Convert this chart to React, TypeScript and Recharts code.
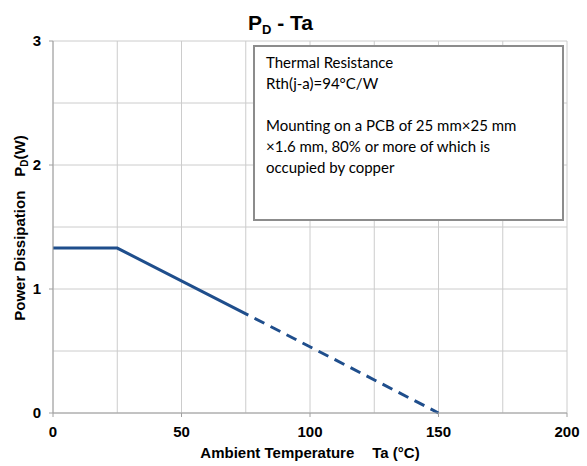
import { LineChart, Line, XAxis, YAxis, CartesianGrid } from 'recharts';

// derating curve, Ta in °C, Pd in W
const temps = [0, 25, 76, 150];
const ratedPower = [1.33, 1.33, 0.79, null];
const extrapolated = [null, null, 0.79, 0];

const xTicks = [0, 50, 100, 150, 200];
const yTicks = [0, 1, 2, 3];
const gridX = [0, 25, 50, 75, 100, 125, 150, 175, 200];
const gridY = [0, 0.5, 1, 1.5, 2, 2.5, 3];

const noteLines = [
  'Thermal Resistance',
  'Rth(j-a)=94°C/W',
  '',
  'Mounting on a PCB of 25 mm×25 mm',
  '×1.6 mm, 80% or more of which is',
  'occupied by copper',
];

const data = temps.map((t, i) => ({ t, solid: ratedPower[i], dashed: extrapolated[i] }));

const boldFont = '"Liberation Sans", Arial, sans-serif';
const lineColor = '#1F4E8C';

const YLabel = () => (
  <text
    x={25}
    y={228}
    transform="rotate(-90 25 228)"
    textAnchor="middle"
    fontFamily={boldFont}
    fontWeight="bold"
    fontSize={15}
    fill="#000"
  >
    <tspan>Power Dissipation</tspan>
    <tspan dx={14}>P</tspan>
    <tspan fontSize={10} dy={3}>D</tspan>
    <tspan dy={-3}>(W)</tspan>
  </text>
);

const XLabel = () => (
  <text
    x={310}
    y={458}
    textAnchor="middle"
    fontFamily={boldFont}
    fontWeight="bold"
    fontSize={15}
    fill="#000"
  >
    <tspan>Ambient Temperature</tspan>
    <tspan dx={18}>Ta (°C)</tspan>
  </text>
);

export default function App() {
  return (
    <div style={{ position: 'absolute', left: 0, top: 0, width: 587, height: 466, background: '#fff' }}>
      <LineChart width={587} height={466} data={data} margin={{ top: 41, right: 20, bottom: 0, left: 0 }}>
        <CartesianGrid
          stroke="#cccccc"
          verticalValues={gridX}
          horizontalValues={gridY}
        />
        <XAxis
          dataKey="t"
          type="number"
          domain={[0, 200]}
          ticks={xTicks}
          height={53}
          stroke="#a0a0a0"
          tickSize={4}
          tickMargin={9}
          tick={{ fill: '#000', fontFamily: boldFont, fontWeight: 'bold', fontSize: 15 }}
          label={<XLabel />}
        />
        <YAxis
          type="number"
          domain={[0, 3]}
          ticks={yTicks}
          width={53}
          stroke="#a0a0a0"
          tickSize={4}
          tickMargin={8}
          tick={{ fill: '#000', fontFamily: boldFont, fontWeight: 'bold', fontSize: 15 }}
          label={<YLabel />}
        />
        <Line
          dataKey="solid"
          stroke={lineColor}
          strokeWidth={3}
          dot={false}
          isAnimationActive={false}
          connectNulls={false}
        />
        <Line
          dataKey="dashed"
          stroke={lineColor}
          strokeWidth={3}
          strokeDasharray="11 7"
          strokeDashoffset={11}
          dot={false}
          isAnimationActive={false}
          connectNulls={false}
        />
      </LineChart>

      <div
        style={{
          position: 'absolute',
          left: 248,
          top: 11,
          fontFamily: boldFont,
          fontWeight: 'bold',
          fontSize: 21,
          lineHeight: '24px',
          color: '#000',
          whiteSpace: 'pre',
        }}
      >
        P<span style={{ fontSize: 13, position: 'relative', top: 4 }}>D</span> - Ta
      </div>

      <div
        style={{
          position: 'absolute',
          left: 253,
          top: 45,
          width: 311,
          height: 176,
          boxSizing: 'border-box',
          border: '2px solid #8c8c8c',
          background: '#fff',
          padding: '5px 0 0 11px',
          fontFamily: 'Lato, "Open Sans", sans-serif',
          fontSize: 15,
          lineHeight: '21px',
          color: '#000',
        }}
      >
        {noteLines.map((l, i) => (
          <div key={i} style={{ height: 21, whiteSpace: 'pre' }}>{l}</div>
        ))}
      </div>
    </div>
  );
}
